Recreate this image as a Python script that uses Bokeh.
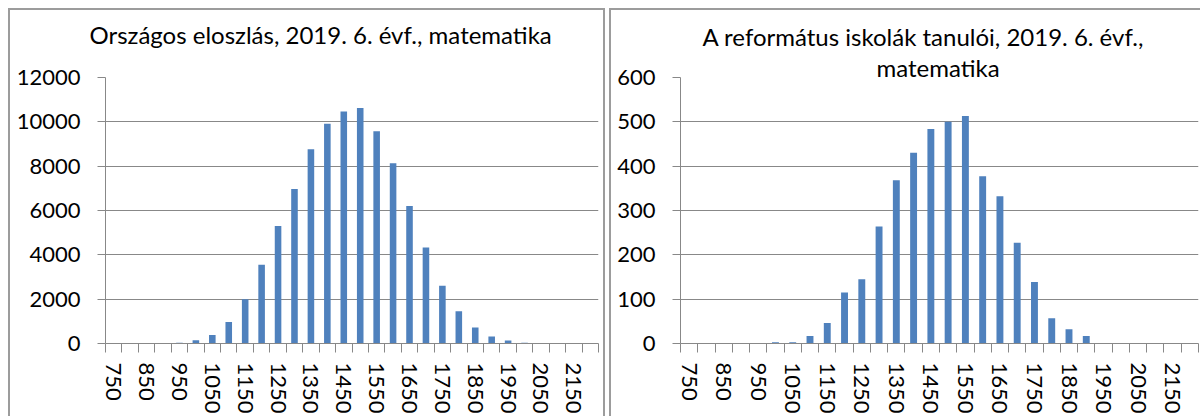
from bokeh.plotting import figure
from bokeh.models import Range1d, LinearAxis, FixedTicker, ColumnDataSource, Title, Spacer
from bokeh.layouts import row, column
from bokeh.embed import file_html
from bokeh.resources import INLINE

# ---- data -------------------------------------------------------------
score_bins = [750, 800, 850, 900, 950, 1000, 1050, 1100, 1150, 1200,
              1250, 1300, 1350, 1400, 1450, 1500, 1550, 1600, 1650, 1700,
              1750, 1800, 1850, 1900, 1950, 2000, 2050, 2100, 2150, 2200]
label_bins = [750, 850, 950, 1050, 1150, 1250, 1350, 1450, 1550, 1650,
              1750, 1850, 1950, 2050, 2150]

national_counts = [0, 0, 0, 0, 30, 150, 380, 970, 2000, 3550,
                   5300, 6970, 8760, 9910, 10470, 10620, 9580, 8130, 6200, 4330,
                   2600, 1460, 720, 320, 130, 30, 5, 0, 0, 0]
reformed_counts = [0, 0, 0, 0, 0, 3, 3, 17, 46, 115,
                   145, 264, 368, 430, 484, 500, 513, 377, 332, 227,
                   139, 57, 32, 17, 1, 0, 0, 0, 0, 0]

national_yticks = [0, 2000, 4000, 6000, 8000, 10000, 12000]
reformed_yticks = [0, 100, 200, 300, 400, 500, 600]

national_title = ["Országos eloszlás, 2019. 6. évf., matematika"]
reformed_title = ["A református iskolák tanulói, 2019. 6. évf.,", "matematika"]

# ---- style ------------------------------------------------------------
FONT = "Lato"
BAR = "#4F81BD"
GRID = "#888888"
BOX = "#9c9c9c"


def make_chart(counts, yticks, titles, width, height,
               mb_left, mb_right, mb_top, mb_bottom, shadow):
    step = score_bins[1] - score_bins[0]
    half = step / 2
    edges = [b - half for b in score_bins] + [score_bins[-1] + half]
    p = figure(x_range=Range1d(edges[0], edges[-1]),
               y_range=Range1d(yticks[0], yticks[-1]),
               width=width, height=height,
               output_backend="svg", toolbar_location=None,
               x_axis_location=None, title_location=None,
               min_border_left=mb_left, min_border_right=mb_right,
               min_border_top=mb_top, min_border_bottom=mb_bottom)
    p.border_fill_color = None
    p.background_fill_color = None
    p.outline_line_color = None
    p.styles = {"box-shadow": shadow}

    # y axis & grid
    ya = p.yaxis[0]
    ya.ticker = FixedTicker(ticks=yticks)
    ya.major_tick_in = 0
    ya.major_tick_out = 8
    ya.minor_tick_in = 0
    ya.minor_tick_out = 0
    ya.major_label_standoff = 17
    ya.axis_line_color = GRID
    ya.major_tick_line_color = GRID
    ya.major_label_text_font = FONT
    ya.major_label_text_font_size = "22px"
    ya.major_label_text_color = "black"
    p.ygrid.grid_line_color = GRID
    p.ygrid.grid_line_width = 1
    p.xgrid.grid_line_color = None

    # x axis: tick marks between categories
    edge_axis = LinearAxis(ticker=FixedTicker(ticks=edges),
                           major_label_overrides={e: "" for e in edges},
                           major_label_text_font_size="0px",
                           major_label_standoff=0,
                           major_tick_in=0, major_tick_out=9,
                           minor_tick_in=0, minor_tick_out=0,
                           axis_line_color=GRID, major_tick_line_color=GRID)
    p.add_layout(edge_axis, "below")

    # x axis: category labels
    label_axis = LinearAxis(ticker=FixedTicker(ticks=label_bins),
                            major_label_overrides={b: str(b) for b in label_bins},
                            major_tick_in=0, major_tick_out=0,
                            minor_tick_in=0, minor_tick_out=0,
                            axis_line_color=None,
                            major_label_orientation="vertical",
                            major_label_standoff=10,
                            major_label_text_font=FONT,
                            major_label_text_font_size="22px",
                            major_label_text_color="black")
    p.add_layout(label_axis, "below")

    src = ColumnDataSource(data=dict(x=score_bins, top=counts))
    p.vbar(x="x", top="top", width=step * 0.4, source=src, fill_color=BAR, line_color=None)

    # titles: listed from the frame outward (a blank panel keeps the gap)
    for text, offset, standoff, size in titles:
        p.add_layout(Title(text=text, align="left", offset=offset, standoff=standoff,
                           vertical_align="bottom",
                           text_font=FONT, text_font_size=size,
                           text_font_style="normal", text_color="black"), "above")
    return p


p1 = make_chart(national_counts, national_yticks,
                [(" ", 0, 7, "10px"), (national_title[0], -16, 16, "24px")],
                width=597, height=408, mb_left=97, mb_right=7, mb_top=69, mb_bottom=73,
                shadow=f"inset 2px 2px 0 0 {BOX}, inset -2px 0 0 0 {BOX}")
p2 = make_chart(reformed_counts, reformed_yticks,
                [(reformed_title[1], 196, -8, "24px"), (reformed_title[0], 22, 8, "24px")],
                width=591, height=408, mb_left=71, mb_right=2, mb_top=69, mb_bottom=73,
                shadow=f"inset 2px 2px 0 0 {BOX}")

layout = column(Spacer(height=8),
                row(Spacer(width=8), p1, Spacer(width=4), p2))
open("out.html", "w").write(file_html(layout, INLINE))
